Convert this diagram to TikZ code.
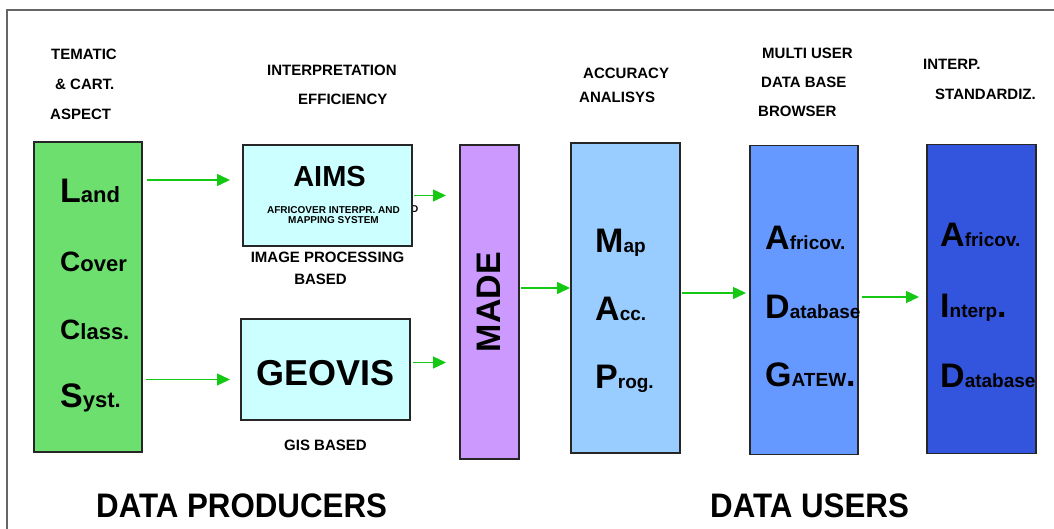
\documentclass[tikz,border=0pt]{standalone}
\usepackage{fontspec}
\setmainfont{Liberation Sans}
\newfontfamily\narrowsans[FakeStretch=0.92]{Liberation Sans}
\usetikzlibrary{arrows.meta,positioning}
\definecolor{lccsgreen}{HTML}{6DDF6E}
\definecolor{syscyan}{HTML}{CCFFFF}
\definecolor{madeviolet}{HTML}{CC99FF}
\definecolor{mapblue}{HTML}{99CCFF}
\definecolor{adbblue}{HTML}{6699FF}
\definecolor{aidblue}{HTML}{3355DD}
\definecolor{flowgreen}{HTML}{14C814}
\newcommand\initcap[1]{{\fontsize{34}{34}\selectfont #1}}
\newcommand\midcap[1]{{\fontsize{28}{28}\selectfont #1}}
\tikzset{
  col/.style  ={rectangle,draw=black!85,line width=1.2pt,inner sep=0pt,outer sep=0pt},
  sys/.style  ={col,fill=syscyan,minimum width=169pt,minimum height=101pt},
  note/.style ={font=\bfseries\fontsize{15}{15}\selectfont,inner sep=0pt,anchor=base west},
  line/.style ={font=\bfseries\fontsize{19}{19}\selectfont,inner sep=0pt,anchor=base west},
  flow/.style ={draw=flowgreen,line width=1.4pt,-{Triangle[length=13pt,width=12pt]}}
}

\begin{document}
\begin{tikzpicture}[x=1pt,y=-1pt]
\useasboundingbox (0,0) rectangle (1054,529);
\draw[black!60,line width=1.2pt] (7,529) |- (1054,10);

% -------- headings --------
\foreach \x/\y/\t [count=\i] in {51/60/TEMATIC, 55/90/\& CART., 50/120/ASPECT,
    267/76/INTERPRETATION, 298/105/EFFICIENCY, 583/79/ACCURACY, 579/103/ANALISYS,
    762/59/MULTI USER, 761/88/DATA BASE, 758/117/BROWSER,
    923/70/INTERP., 935/100/STANDARDIZ.}
  \node[note] (hd\i) at (\x,\y) {\t};

% -------- producers --------
\node[col, fill=lccsgreen, minimum width=108pt, minimum height=310pt] (lccs) at (88,297) {};
\foreach \t [count=\i] in {{\initcap{L}and},{\midcap{C}over},{\midcap{C}lass.},{\initcap{S}yst.}}
  \node[line, font=\bfseries\fontsize{22}{22}\selectfont] (lc\i) at (60,{203+68*(\i-1)}) {\t};

\node[note, font=\bfseries\fontsize{10}{10}\selectfont] (hid) at (411,213) {D};
\node[sys] (aims) at (327.5,195.5) {};
\node[font=\bfseries\fontsize{29}{29}\selectfont, inner sep=0pt, anchor=base] (aimst) at ([xshift=2pt,yshift=-42pt]aims.north) {AIMS};
\node[font=\bfseries\fontsize{10}{10}\selectfont, inner sep=0pt, anchor=north, align=center] (aimss)
  at ([xshift=6pt,yshift=-61pt]aims.north) {AFRICOVER INTERPR. AND\\MAPPING SYSTEM};
\node[note, anchor=north, below=6pt of aims] (ip) {IMAGE PROCESSING};
\node[note, anchor=north, below=11pt of ip, xshift=-7pt] (ipb) {BASED};

\node[sys, below=73pt of aims, xshift=-2pt] (geovis) {};
\node[font=\bfseries\fontsize{36}{36}\selectfont, inner sep=0pt] (geovist) at ([yshift=-4pt]geovis.center) {GEOVIS};
\node[note, anchor=north, below=20pt of geovis] (gis) {GIS BASED};

\node[col, fill=madeviolet, minimum width=59pt, minimum height=314pt,
      right=48pt of aims.north east, anchor=north west] (made) {};
\node[rotate=90, font=\bfseries\fontsize{34}{34}\selectfont, inner sep=0pt] (madet) at ([xshift=-1pt]made.center) {MADE};

% -------- users --------
\node[col, fill=mapblue, minimum width=109pt, minimum height=310pt, right=52pt of made, yshift=4pt] (map) {};
\node[col, fill=adbblue, minimum width=108pt, minimum height=309pt, right=70pt of map, yshift=-2pt] (adb) {};
\node[col, fill=aidblue, minimum width=109pt, minimum height=309pt, right=69pt of adb, yshift=1pt] (aid) {};

\foreach \t [count=\i] in {{\initcap{M}ap},{\initcap{A}cc.},{\initcap{P}rog.}}
  \node[line] (mp\i) at (595,{252+68*(\i-1)}) {\t};
\foreach \t [count=\i] in {{\initcap{A}fricov.},{\initcap{D}atabase},{\initcap{G}ATEW\initcap{.}}}
  \node[line] (ad\i) at (765,{250+68*(\i-1)}) {\t};
\foreach \t [count=\i] in {{\initcap{A}fricov.},{\initcap{I}nterp\initcap{.}},{\initcap{D}atabase}}
  \node[line] (ai\i) at (940,{247+70*(\i-1)}) {\t};

% wiring
\draw[flow, shorten <=5pt, shorten >=13pt] ([yshift=-38pt]lccs.north east) -- ([yshift=-38pt]lccs.north east -| aims.west);
\draw[flow, shorten <=4pt, shorten >=11pt] ([yshift=-10pt]geovis.west -| lccs.east) -- ([yshift=-10pt]geovis.west);
\draw[flow, shorten <=2pt, shorten >=14pt] (aims.east) -- (aims.east -| made.west);
\draw[flow, shorten <=3pt, shorten >=14pt] ([yshift=7pt]geovis.east) -- ([yshift=7pt]geovis.east -| made.west);
\draw[flow, shorten <=2pt, shorten >=1pt] ([yshift=14pt]made.east) -- ([yshift=14pt]made.east -| map.west);
\draw[flow, shorten <=2pt, shorten >=4pt] ([yshift=5pt]map.east) -- ([yshift=5pt]map.east -| adb.west);
\draw[flow, shorten <=4pt, shorten >=8pt] ([yshift=3pt]adb.east) -- ([yshift=3pt]adb.east -| aid.west);

% -------- footer --------
\node[anchor=base west, inner sep=0pt, font=\narrowsans\bfseries\fontsize{34}{34}\selectfont] (prod) at (96,517) {DATA PRODUCERS};
\node[anchor=base west, inner sep=0pt, font=\narrowsans\bfseries\fontsize{34}{34}\selectfont] (users) at (710,517) {DATA USERS};
\end{tikzpicture}
\end{document}
